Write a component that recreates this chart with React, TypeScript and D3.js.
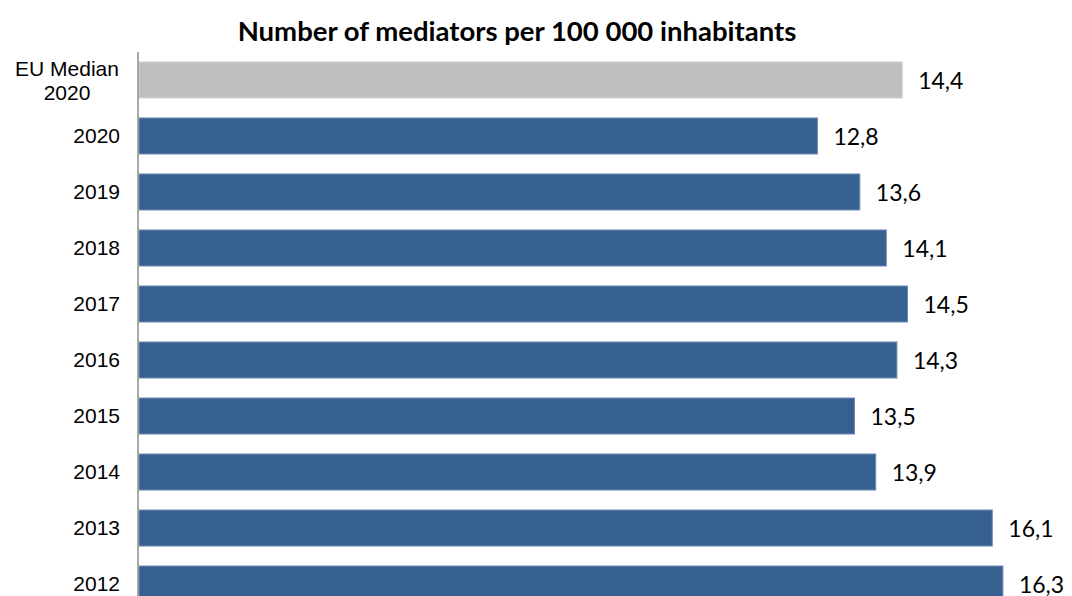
import React from "react";
import * as d3 from "d3";

const categories = ["EU Median\n2020", "2020", "2019", "2018", "2017", "2016", "2015", "2014", "2013", "2012"];
const values = [14.4, 12.8, 13.6, 14.1, 14.5, 14.3, 13.5, 13.9, 16.1, 16.3];
const highlight = [true, false, false, false, false, false, false, false, false, false];
const title = "Number of mediators per 100 000 inhabitants";

export default function App() {
  const W = 1072, H = 596;
  const x = d3.scaleLinear().domain([0, 18]).range([139, 139 + 18 * 53.0]);
  const y = d3.scaleBand<string>().domain(categories).range([52, 52 + 56 * 10]).paddingInner(0.357).paddingOuter(0.178);
  const fmt = (v: number) => d3.format(".1f")(v).replace(".", ",");
  return (
    <div style={{ position: "absolute", left: 0, top: 0 }}>
      <svg width={W} height={H} style={{ display: "block", background: "#fff" }}>
        <text x={517} y={41} textAnchor="middle" fontFamily="Lato" fontWeight="bold" fontSize={27.5} fill="#000">{title}</text>
        {categories.map((c, i) => {
          const yy = y(c)!;
          const bw = y.bandwidth();
          return (
            <g key={c}>
              <rect x={x(0)} y={yy} width={x(values[i]) - x(0)} height={bw}
                fill={highlight[i] ? "#bfbfbf" : "#36608f"}
                stroke={highlight[i] ? "#d0d0d0" : "#6a8bb3"} strokeWidth={1} />
              <text x={x(values[i]) + 16} y={yy + bw / 2 + 9} fontFamily="Lato" fontSize={23} fill="#000">{fmt(values[i])}</text>
              {c.includes("\n") ? (
                <text x={67} y={yy + bw / 2} textAnchor="middle" fontFamily="Liberation Sans, Arial" fontSize={21} fill="#000">
                  {c.split("\n").map((l, j) => (
                    <tspan key={j} x={67} y={yy + bw / 2 - 4 + (j === 0 ? 0 : 24)}>{l}</tspan>
                  ))}
                </text>
              ) : (
                <text x={120} y={yy + bw / 2 + 7} textAnchor="end" fontFamily="Liberation Sans, Arial" fontSize={21} fill="#000">{c}</text>
              )}
            </g>
          );
        })}
        <line x1={138} x2={138} y1={52} y2={H} stroke="#8c8c8c" strokeWidth={1.5} />
      </svg>
    </div>
  );
}
